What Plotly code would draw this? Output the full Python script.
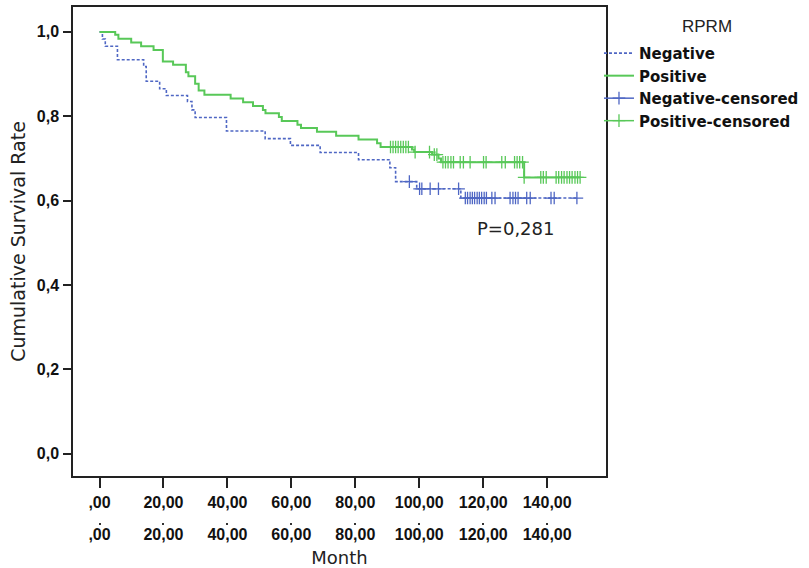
import plotly.graph_objects as go

# ---- data (Kaplan-Meier, RPRM) ----
neg_times = [0.9, 1.8, 5.6, 13.8, 14.6, 18.8, 20.9, 27.5, 28.9, 29.9, 39.7, 51.8,
             59.7, 69.0, 81.0, 90.8, 92.6, 99.2, 113.0]
neg_surv = [0.983, 0.966, 0.934, 0.918, 0.883, 0.865, 0.849, 0.835, 0.815, 0.797, 0.765, 0.747,
            0.731, 0.714, 0.697, 0.678, 0.645, 0.628, 0.606]
neg_end = 149.3
neg_censored = [96.9, 100.1, 100.8, 103.4, 106.0, 112.3, 114.4, 115.1, 115.9, 116.6, 117.3,
                118.1, 118.8, 119.5, 120.3, 121.0, 122.7, 123.7, 128.4, 129.3, 130.1, 130.9,
                133.6, 134.7, 141.2, 142.2, 149.3]

pos_times = [4.9, 5.9, 9.9, 13.0, 16.9, 19.8, 23.0, 27.0, 27.8, 29.9, 31.0, 32.8, 41.0, 44.9,
             48.0, 51.1, 51.9, 56.1, 57.0, 61.9, 63.0, 68.0, 74.0, 81.0, 86.8, 87.9, 97.7,
             98.4, 104.0, 106.0, 106.8, 132.8]
pos_surv = [0.993, 0.984, 0.975, 0.966, 0.957, 0.930, 0.922, 0.904, 0.895, 0.877, 0.861, 0.851,
            0.842, 0.833, 0.824, 0.815, 0.807, 0.798, 0.789, 0.780, 0.772, 0.763, 0.754, 0.745,
            0.736, 0.727, 0.721, 0.715, 0.709, 0.700, 0.691, 0.655]
pos_end = 150.3
pos_censored = [91.0, 91.8, 92.6, 93.4, 94.2, 95.0, 95.8, 96.6, 98.7, 103.2, 104.7, 105.5,
                107.4, 108.2, 109.0, 109.9, 110.7, 112.8, 113.8, 115.9, 120.1, 120.9, 125.8,
                126.9, 129.8, 130.6, 131.4, 132.3, 132.8, 138.0, 138.8, 139.7, 142.8, 143.6,
                144.5, 145.3, 146.2, 147.0, 147.8, 148.7, 149.5, 150.3]

tick_vals = [0, 20, 40, 60, 80, 100, 120, 140]
tick_text = [",00", "20,00", "40,00", "60,00", "80,00", "100,00", "120,00", "140,00"]
y_tick_vals = [0.0, 0.2, 0.4, 0.6, 0.8, 1.0]
y_tick_text = ["0,0", "0,2", "0,4", "0,6", "0,8", "1,0"]

GREEN = "#58c858"
BLUE = "#4f67c4"
TICKFONT = dict(family="Liberation Sans, Arial, sans-serif", size=16, color="#111", weight="bold")
TITLEFONT = dict(family="DejaVu Sans, sans-serif", size=18, color="#222")


def step_xy(times, surv, end):
    return [0.0] + list(times) + [end], [1.0] + list(surv) + [surv[-1]]


def surv_at(times, surv, t):
    s = 1.0
    for ti, si in zip(times, surv):
        if ti <= t:
            s = si
    return s


def censor_xy(cens, times, surv):
    xs, ys = [], []
    for t in cens:
        xs += [t, None]
        ys += [surv_at(times, surv, t), None]
    return xs, ys


fig = go.Figure()

nx, ny = step_xy(neg_times, neg_surv, neg_end)
px_, py_ = step_xy(pos_times, pos_surv, pos_end)
ncx, ncy = censor_xy(neg_censored, neg_times, neg_surv)
pcx, pcy = censor_xy(pos_censored, pos_times, pos_surv)

fig.add_trace(go.Scatter(x=nx, y=ny, mode="lines", name="Negative", line_shape="hv",
                         line=dict(color=BLUE, width=1.6, dash="3px,2px")))
fig.add_trace(go.Scatter(x=px_, y=py_, mode="lines", name="Positive", line_shape="hv",
                         line=dict(color=GREEN, width=2)))
fig.add_trace(go.Scatter(x=ncx, y=ncy, mode="lines+markers", name="Negative-censored",
                         connectgaps=False, line=dict(color=BLUE, width=1.5),
                         marker=dict(symbol="cross-thin-open", size=9,
                                     line=dict(color=BLUE, width=1.3))))
fig.add_trace(go.Scatter(x=pcx, y=pcy, mode="lines+markers", name="Positive-censored",
                         connectgaps=False, line=dict(color=GREEN, width=1.5),
                         marker=dict(symbol="cross-thin-open", size=9,
                                     line=dict(color=GREEN, width=1.3))))
# helper trace so the second (duplicate) x-axis row is drawn
fig.add_trace(go.Scatter(x=[0], y=[None], xaxis="x2", yaxis="y", mode="markers",
                         showlegend=False, hoverinfo="skip"))

XR = [-8.3, 158.4]
fig.update_layout(
    width=809, height=568,
    margin=dict(l=73, r=203, t=7, b=46, autoexpand=False),
    paper_bgcolor="white", plot_bgcolor="white",
    showlegend=True,
    xaxis=dict(range=XR, tickvals=tick_vals, ticktext=tick_text, tickfont=TICKFONT,
               ticks="outside", ticklen=10, tickwidth=1.5, tickcolor="#222",
               showline=True, linecolor="#222", linewidth=1.5, mirror=True,
               showgrid=False, zeroline=False, ticklabelstandoff=1, anchor="y",
               automargin=False),
    xaxis2=dict(range=XR, overlaying="x", anchor="free", position=0, side="bottom",
                tickvals=tick_vals, ticktext=tick_text, tickfont=TICKFONT,
                ticks="outside", ticklen=2, tickwidth=1.5, tickcolor="#333",
                showline=False, showgrid=False, zeroline=False, ticklabelstandoff=-4,
                automargin=False,
                title=dict(text="Month", font=TITLEFONT, standoff=9)),
    yaxis=dict(range=[-0.053, 1.059], domain=[0.0893, 1], tickvals=y_tick_vals,
               ticktext=y_tick_text, tickfont=TICKFONT,
               ticks="outside", ticklen=8, tickwidth=1.5, tickcolor="#222",
               showline=True, linecolor="#222", linewidth=1.5, mirror=True,
               showgrid=False, zeroline=False, ticklabelstandoff=1, automargin=False,
               title=dict(text="Cumulative Survival Rate",
                          font=dict(family="DejaVu Sans, sans-serif", size=19, color="#222"),
                          standoff=6)),
    legend=dict(x=0.7404, y=0.935, xref="container", yref="container",
                xanchor="left", yanchor="top",
                font=dict(family="DejaVu Sans, sans-serif", size=15, color="#111",
                          weight="bold"),
                bgcolor="rgba(0,0,0,0)", tracegroupgap=0, itemwidth=30),
    annotations=[
        dict(text="RPRM", xref="paper", yref="paper", x=1.1895, y=0.963,
             xanchor="center", yanchor="middle", showarrow=False,
             font=dict(family="Liberation Sans, Arial, sans-serif", size=17, color="#222")),
        dict(text="P=0,281", xref="x", yref="y", x=130, y=0.535,
             xanchor="center", yanchor="middle", showarrow=False, font=TITLEFONT),
    ],
)

fig.write_html("out.html", config={"displayModeBar": False},
               post_script="document.body.style.margin='0px';")
